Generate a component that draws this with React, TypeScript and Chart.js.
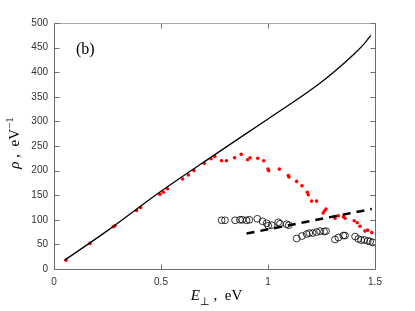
import React, { useEffect, useRef } from "react";
import { Chart, registerables } from "chart.js";

Chart.register(...registerables);

// Tick values
const xTickValues = [0, 0.5, 1, 1.5];
const yTickValues = [0, 50, 100, 150, 200, 250, 300, 350, 400, 450, 500];

// Solid theoretical curve
const lineE = [0.05, 0.25, 0.5, 0.75, 1.0, 1.25, 1.4, 1.45, 1.48];
const lineRho = [18, 78, 158, 232, 305, 380, 436, 458, 475];

// Red dots
const redE = [0.056, 0.168, 0.277, 0.285, 0.386, 0.405, 0.495, 0.511, 0.53, 0.601, 0.628, 0.654, 0.702, 0.734, 0.751, 0.783, 0.806, 0.844, 0.875, 0.905, 0.916, 0.952, 0.98, 1.0, 1.003, 1.053, 1.095, 1.098, 1.134, 1.159, 1.184, 1.188, 1.204, 1.227, 1.258, 1.266, 1.271, 1.313, 1.329, 1.352, 1.36, 1.403, 1.417, 1.43, 1.453, 1.466, 1.485];
const redRho = [18, 52, 86, 88, 119, 125, 152, 156, 163, 183, 191, 200, 215, 224, 229, 220, 220, 226, 233, 222, 226, 225, 220, 203, 200, 203, 190, 187, 178, 169, 156, 151, 138, 138, 114, 119, 122, 103, 108, 106, 103, 98, 94, 87, 77, 79, 74];

// Open circles
const circE = [0.783, 0.799, 0.846, 0.869, 0.88, 0.9, 0.913, 0.95, 0.974, 0.994, 1.001, 1.017, 1.048, 1.056, 1.087, 1.097, 1.134, 1.159, 1.181, 1.193, 1.209, 1.227, 1.243, 1.262, 1.271, 1.313, 1.329, 1.352, 1.36, 1.407, 1.422, 1.435, 1.45, 1.466, 1.477, 1.489];
const circRho = [99, 99, 99, 100, 100, 99, 100, 102, 97, 93, 88, 89, 95, 92, 91, 89, 62, 67, 71, 73, 73, 75, 77, 76, 77, 60, 64, 68, 68, 66, 61, 59, 59, 57, 56, 54];

// Dashed fit line
const dashE = [0.9, 1.485];
const dashRho = [72, 122];

const panelLabel = "(b)";

const pts = (xs: number[], ys: number[]) => xs.map((x, i) => ({ x, y: ys[i] }));

const framePlugin = {
  id: "frame",
  afterDraw(chart: any) {
    const { ctx, chartArea: a, scales } = chart;
    const xs = scales.x;
    const ys = scales.y;
    ctx.save();
    ctx.lineWidth = 1;
    const L = Math.round(a.left) + 0.5;
    const R = Math.round(a.right) + 0.5;
    const T = Math.round(a.top) + 0.5;
    const B = Math.round(a.bottom) + 0.5;
    // top line lighter
    ctx.strokeStyle = "#a8a8a8";
    ctx.beginPath();
    ctx.moveTo(L, T);
    ctx.lineTo(R, T);
    ctx.stroke();
    ctx.strokeStyle = "#6e6e6e";
    ctx.beginPath();
    ctx.moveTo(L, T);
    ctx.lineTo(L, B);
    ctx.lineTo(R, B);
    ctx.lineTo(R, T);
    ctx.stroke();
    const tl = 5;
    ctx.beginPath();
    for (const v of yTickValues) {
      const y = Math.round(ys.getPixelForValue(v)) + 0.5;
      ctx.moveTo(L, y);
      ctx.lineTo(L + tl, y);
      ctx.moveTo(R, y);
      ctx.lineTo(R - tl, y);
    }
    for (const v of xTickValues) {
      const x = Math.round(xs.getPixelForValue(v)) + 0.5;
      ctx.moveTo(x, B);
      ctx.lineTo(x, B - tl);
      ctx.moveTo(x, T);
      ctx.lineTo(x, T + tl);
    }
    ctx.stroke();

    // panel label
    ctx.fillStyle = "#000";
    ctx.font = "16px 'Liberation Serif'";
    ctx.textBaseline = "alphabetic";
    ctx.textAlign = "left";
    ctx.fillText(panelLabel, 76, 54);

    // x title: E⊥ , eV
    const big = "15px 'Liberation Serif'";
    const bigIt = "italic 15px 'Liberation Serif'";
    const small = "11px 'Liberation Serif'";
    const partsX = [
      { t: "E", f: bigIt, dy: 0 },
      { t: "\u22A5", f: small, dy: 5 },
      { t: " ,  eV", f: big, dy: 0 },
    ];
    let w = 0;
    for (const p of partsX) { ctx.font = p.f; w += ctx.measureText(p.t).width; }
    let cx = (a.left + a.right) / 2 - w / 2 + 2;
    const by = 300;
    for (const p of partsX) {
      ctx.font = p.f;
      ctx.fillText(p.t, cx, by + p.dy);
      cx += ctx.measureText(p.t).width;
    }

    // y title: ρ , eV^-1 (rotated)
    const partsY = [
      { t: "\u03C1", f: bigIt, dy: 0 },
      { t: " ,  eV", f: big, dy: 0 },
      { t: "\u22121", f: small, dy: -6 },
    ];
    w = 0;
    for (const p of partsY) { ctx.font = p.f; w += ctx.measureText(p.t).width; }
    ctx.translate(19, 143);
    ctx.rotate(-Math.PI / 2);
    let px = -w / 2;
    for (const p of partsY) {
      ctx.font = p.f;
      ctx.fillText(p.t, px, p.dy);
      px += ctx.measureText(p.t).width;
    }
    ctx.restore();
  },
};

export default function App() {
  const ref = useRef<HTMLCanvasElement>(null);
  useEffect(() => {
    const chart = new Chart(ref.current!, {
      type: "scatter",
      data: {
        datasets: [
          {
            data: pts(lineE, lineRho),
            showLine: true,
            borderColor: "#000",
            borderWidth: 1.3,
            pointRadius: 0,
            tension: 0.4,
            cubicInterpolationMode: "monotone",
          } as any,
          {
            data: pts(dashE, dashRho),
            showLine: true,
            borderColor: "#000",
            borderWidth: 2.5,
            borderDash: [8, 6],
            pointRadius: 0,
          },
          {
            data: pts(circE, circRho),
            showLine: false,
            pointRadius: 3.4,
            pointBorderColor: "#000",
            pointBorderWidth: 0.8,
            pointBackgroundColor: "rgba(0,0,0,0)",
          },
          {
            data: pts(redE, redRho),
            showLine: false,
            pointRadius: 1.8,
            pointBorderWidth: 0,
            pointBackgroundColor: "#ff0000",
          },
        ],
      },
      options: {
        animation: false,
        responsive: false,
        maintainAspectRatio: false,
        layout: { padding: { top: 23, right: 40, left: 0, bottom: 0 } },
        plugins: { legend: { display: false }, tooltip: { enabled: false } },
        scales: {
          x: {
            type: "linear",
            min: 0,
            max: 1.5,
            afterBuildTicks: (s: any) => { s.ticks = xTickValues.map((v) => ({ value: v })); },
            afterFit: (s: any) => { s.height = 42; },
            grid: { display: false, drawTicks: false },
            border: { display: false },
            ticks: {
              padding: 7,
              autoSkip: false,
              maxRotation: 0,
              color: "#333",
              font: { family: "'Liberation Sans'", size: 10 },
              callback: (v: any) => String(v),
            },
          },
          y: {
            type: "linear",
            min: 0,
            max: 500,
            afterBuildTicks: (s: any) => { s.ticks = yTickValues.map((v) => ({ value: v })); },
            afterFit: (s: any) => { s.width = 54; },
            grid: { display: false, drawTicks: false },
            border: { display: false },
            ticks: {
              padding: 6,
              autoSkip: false,
              color: "#333",
              font: { family: "'Liberation Sans'", size: 10 },
              callback: (v: any) => String(v),
            },
          },
        },
      },
      plugins: [framePlugin],
    });
    return () => chart.destroy();
  }, []);
  return (
    <div style={{ position: "fixed", left: 0, top: 0, width: 415, height: 311, background: "#fff" }}>
      <canvas ref={ref} width={415} height={311} style={{ display: "block" }} />
    </div>
  );
}
